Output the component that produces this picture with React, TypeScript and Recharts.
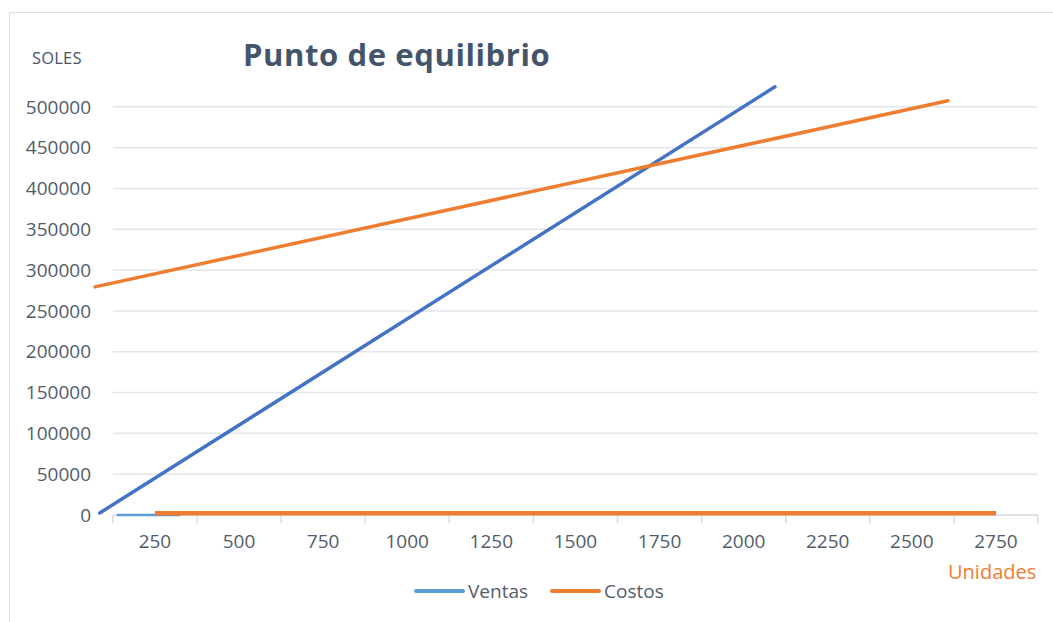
import React from 'react'
import { ComposedChart, Line, XAxis, YAxis, ReferenceLine } from 'recharts'

// categorías del eje X (unidades)
const unidades = [250, 500, 750, 1000, 1250, 1500, 1750, 2000, 2250, 2500, 2750]
// serie Costos pegada al eje (línea naranja de abajo)
const costosBase = [2200, 2200, 2200, 2200, 2200, 2200, 2200, 2200, 2200, 2200, 2200]
// tramo corto de Ventas pegado al eje
const ventasBaseUnits = [137, 325]
const ventasBaseValues = [0, 0]
// rectas de ingresos y costos totales
const ventasUnits = [86, 2093]
const ventasSoles = [2500, 524500]
const costosUnits = [72, 2607]
const costosSoles = [279400, 507400]
// eje Y
const yTicks = [0, 50000, 100000, 150000, 200000, 250000, 300000, 350000, 400000, 450000, 500000]

const BLUE = '#4472C4'
const LIGHT_BLUE = '#5B9BD5'
const ORANGE = '#ED7D31'
const TEXT = '#525C6A'
const GRID = '#E2E5EA'
const AXIS = '#D6DAE0'
const FONT = '"Open Sans", sans-serif'

const pts = (xs: number[], ys: number[]) => xs.map((x, i) => ({ x, y: ys[i] }))

const costosBaseData = pts(unidades, costosBase)
const ventasBaseData = pts(ventasBaseUnits, ventasBaseValues)
const ventasData = pts(ventasUnits, ventasSoles)
const costosData = pts(costosUnits, costosSoles)

// límites entre categorías (marcas del eje)
const step = unidades[1] - unidades[0]
const bounds = [...unidades.map((u) => u - step / 2), unidades[unidades.length - 1] + step / 2]
const xStart = bounds[0]
const xEnd = bounds[bounds.length - 1]

export default function App() {
  return (
    <div style={{ position: 'absolute', left: 0, top: 0, width: 1053, height: 622, background: '#fff', fontFamily: FONT }}>
      <div style={{ position: 'absolute', left: 9, top: 12, width: 1100, height: 700, borderLeft: '1.5px solid #DADDE2', borderTop: '1.5px solid #DADDE2' }} />

      <ComposedChart width={1053} height={622} margin={{ top: 66, right: 15, bottom: 0, left: 0 }}>
        <XAxis
          xAxisId="u" type="number" dataKey="x" domain={[57, xEnd]}
          ticks={unidades} tickSize={0} tickMargin={20} axisLine={false} tickLine={false} height={107}
          tick={{ fill: TEXT, fontSize: 19, fontFamily: FONT }}
        />
        <YAxis
          type="number" domain={[0, 550000]} ticks={yTicks} width={90}
          axisLine={false} tickLine={false} tickSize={0} tickMargin={-1}
          tick={{ fill: TEXT, fontSize: 19, fontFamily: FONT }}
        />

        {yTicks.map((v) => (
          <ReferenceLine
            key={'g' + v} xAxisId="u"
            segment={[{ x: xStart, y: v }, { x: xEnd, y: v }]}
            stroke={v === 0 ? AXIS : GRID} strokeWidth={1.5}
          />
        ))}
        {bounds.map((b) => (
          <ReferenceLine
            key={'m' + b} xAxisId="u" ifOverflow="visible"
            segment={[{ x: b, y: 0 }, { x: b, y: -10000 }]}
            stroke={AXIS} strokeWidth={1.5}
          />
        ))}

        <Line xAxisId="u" data={ventasBaseData} dataKey="y" name="Ventas" stroke={LIGHT_BLUE} strokeWidth={2.5} dot={false} isAnimationActive={false} />
        <Line xAxisId="u" data={costosBaseData} dataKey="y" name="Costos" stroke={ORANGE} strokeWidth={4.5} dot={false} isAnimationActive={false} />
        <Line xAxisId="u" data={ventasData} dataKey="y" stroke={BLUE} strokeWidth={3.5} strokeLinecap="round" dot={false} isAnimationActive={false} />
        <Line xAxisId="u" data={costosData} dataKey="y" stroke={ORANGE} strokeWidth={3.5} strokeLinecap="round" dot={false} isAnimationActive={false} />
      </ComposedChart>

      <div style={{ position: 'absolute', left: 243, top: 39, fontSize: 31, lineHeight: 1, fontWeight: 700, letterSpacing: 0.6, color: '#44546A', whiteSpace: 'nowrap' }}>
        Punto de equilibrio
      </div>
      <div style={{ position: 'absolute', left: 32, top: 50, fontSize: 16.5, lineHeight: 1, letterSpacing: 0.2, color: '#44546A' }}>SOLES</div>
      <div style={{ position: 'absolute', left: 948, top: 562, fontSize: 20, lineHeight: 1, color: ORANGE }}>Unidades</div>

      <div style={{ position: 'absolute', left: 414, top: 580, display: 'flex', alignItems: 'center', fontSize: 19, lineHeight: '22px', color: TEXT }}>
        <span style={{ width: 51, height: 4.5, borderRadius: 3, background: LIGHT_BLUE, display: 'inline-block', marginRight: 3 }} />
        <span>Ventas</span>
        <span style={{ width: 51, height: 4.5, borderRadius: 3, background: ORANGE, display: 'inline-block', marginLeft: 22, marginRight: 3 }} />
        <span>Costos</span>
      </div>
    </div>
  )
}
